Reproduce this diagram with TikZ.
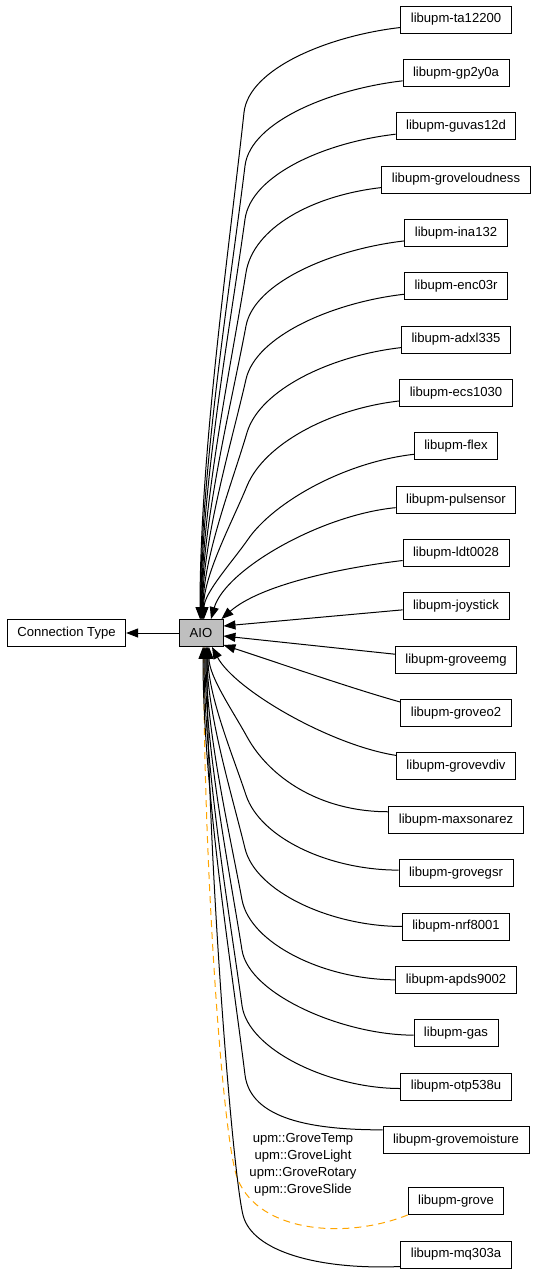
\documentclass[tikz,border=0pt]{standalone}
\usepackage{fontspec}
\setmainfont{Liberation Sans}
\usetikzlibrary{arrows.meta,calc}
\definecolor{gvorange}{HTML}{FFA500}
\definecolor{gvgray}{HTML}{BFBFBF}
\newcommand\nodefont{\fontsize{13.1}{16}\selectfont}
\tikzset{
  box/.style={draw=black, fill=white, line width=0.9pt, minimum height=27pt,
    inner xsep=10pt, inner ysep=0pt, font=\nodefont},
  edge/.style={line width=1pt, -{Triangle[length=12pt,width=9pt]}},
  dep/.style={edge, draw=gvorange, dash pattern=on 7pt off 5pt},
  lbl/.style={font=\fontsize{13.1}{17}\selectfont, align=center, inner sep=0pt}
}
% top edges: node, end x offset, knee x
\newcommand\topedge[3]{%
\draw[edge] let \p1=([yshift=-8pt]#1.west), \p2=([xshift=#2pt]aio.north),
  \p3=(#3pt,\y1-85pt),
  \p4=({\x3+0.27*(\x2-\x3)-3pt},{\y3+0.27*(\y2-\y3)}),
  \p5=($(\p3)!-45pt!(\p4)$),
  \p6=(\x2,{\y2+0.33*(\y3-\y2)})
 in (\p1) .. controls (\x1-70pt,\y1-8pt) and (\p5) .. (\p3) .. controls (\p4) and (\p6) .. (\p2);}
% bottom edges: node, start yshift, end x offset, knee x, rise
\newcommand\botedge[5]{%
\draw[edge] let \p1=([yshift=#2pt]#1.west), \p2=([xshift=#3pt]aio.south),
  \p3=(#4pt,\y1+#5pt),
  \p4=({\x3+0.27*(\x2-\x3)-3pt},{\y3+0.27*(\y2-\y3)}),
  \p5=($(\p3)!-45pt!(\p4)$),
  \p6=(\x2,{\y2+0.33*(\y3-\y2)})
 in (\p1) .. controls (\x1-70pt,\y1) and (\p5) .. (\p3) .. controls (\p4) and (\p6) .. (\p2);}
\begin{document}
\begin{tikzpicture}[x=1pt,y=-1pt]
\useasboundingbox (0,0) rectangle (536,1275);
% nodes
\node[box] (ct) at (66.5,633) {Connection Type};
\node[box, fill=gvgray, minimum width=44pt] (aio) at (201,633) {AIO};
\node[box] (n1) at (456,19.5) {libupm-ta12200};
\node[box] (n2) at (456,72.85) {libupm-gp2y0a};
\node[box] (n3) at (456,126.2) {libupm-guvas12d};
\node[box] (n4) at (456,179.55) {libupm-groveloudness};
\node[box] (n5) at (456,232.9) {libupm-ina132};
\node[box] (n6) at (456,286.25) {libupm-enc03r};
\node[box] (n7) at (456,339.6) {libupm-adxl335};
\node[box] (n8) at (456,392.95) {libupm-ecs1030};
\node[box] (n9) at (456,446.3) {libupm-flex};
\node[box] (n10) at (456,499.65) {libupm-pulsensor};
\node[box] (n11) at (456,553.0) {libupm-ldt0028};
\node[box] (n12) at (456,606.35) {libupm-joystick};
\node[box] (n13) at (456,659.7) {libupm-groveemg};
\node[box] (n14) at (456,713.05) {libupm-groveo2};
\node[box] (n15) at (456,766.4) {libupm-grovevdiv};
\node[box] (n16) at (456,819.75) {libupm-maxsonarez};
\node[box] (n17) at (456,873.1) {libupm-grovegsr};
\node[box] (n18) at (456,926.45) {libupm-nrf8001};
\node[box] (n19) at (456,979.8) {libupm-apds9002};
\node[box] (n20) at (456,1033.15) {libupm-gas};
\node[box] (n21) at (456,1086.5) {libupm-otp538u};
\node[box] (n22) at (456,1139.85) {libupm-grovemoisture};
\node[box] (n23) at (456,1201) {libupm-grove};
\node[box] (n24) at (456,1254.5) {libupm-mq303a};
\node[lbl] (glabel) at (303,1164.5) {upm::GroveTemp\\upm::GroveLight\\upm::GroveRotary\\upm::GroveSlide};
% AIO -> Connection Type
\draw[edge] (aio.west) -- (ct.east);
% dashed orange edge from libupm-grove
\draw[dep] (n23.south west) .. controls (345,1240) and (260,1232) .. (238,1180)
  .. controls (222,1143) and (203,850) .. ([xshift=3pt]aio.south);
% top edges
\topedge{n1}{-1}{244}
\topedge{n2}{-0.5}{245}
\topedge{n3}{0}{245}
\topedge{n4}{0.5}{246}
\topedge{n5}{1}{246}
\topedge{n6}{1.5}{246}
\topedge{n7}{2}{247}
\topedge{n8}{2.5}{247}
\topedge{n9}{3}{248}
% near edges
\draw[edge] ([yshift=-8pt]n10.west) .. controls (320,515) and (225,570) .. ([xshift=10pt]aio.north);
\draw[edge] ([yshift=-7.5pt]n11.west) .. controls (340,568) and (260,585) .. ([xshift=-2pt]aio.north east);
\draw[edge] ([yshift=-3.5pt]n12.west) -- ([yshift=7pt]aio.east);
\draw[edge] ([yshift=5.5pt]n13.west) -- ([yshift=-3pt]aio.east);
\draw[edge] ([yshift=11pt]n14.west) .. controls (350,688) and (270,660) .. ([yshift=-12pt]aio.east);
\draw[edge] ([yshift=11pt]n15.west) .. controls (330,745) and (235,690) .. ([xshift=11pt]aio.south);
% bottom edges
\botedge{n16}{8}{8}{247}{75}
\botedge{n17}{3}{7}{246}{75}
\botedge{n18}{0}{6}{245}{78}
\botedge{n19}{0}{5}{242}{80}
\botedge{n20}{-2}{4}{242}{85}
\botedge{n21}{-2}{3}{242}{83}
\botedge{n22}{10}{2}{245}{55}
\draw[edge] ([yshift=-12pt]n24.west) .. controls (320,1270) and (252,1252) .. (243,1215)
  .. controls (232,1170) and (207,850) .. ([xshift=6pt]aio.south);
\end{tikzpicture}
\end{document}
